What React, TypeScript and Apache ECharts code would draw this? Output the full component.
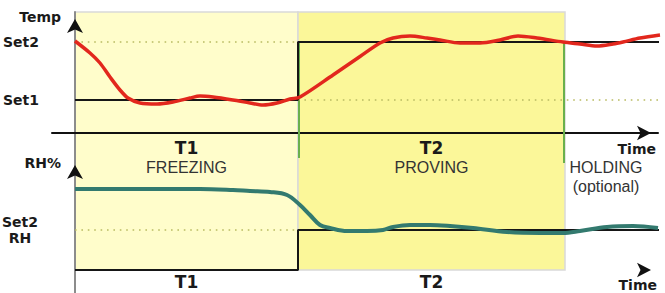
import { useEffect, useRef } from "react";
import * as echarts from "echarts";

// ---- time axis (arbitrary time units) ----
const TIME_MIN = -23;
const TIME_MAX = 583;
const TIME_END = 585;
const PHASE_EDGES = [0, 223, 490]; // start of T1, T1 -> T2, T2 -> holding
const PHASE_NAMES = ["T1", "T2", ""];
const PHASE_TITLES = ["FREEZING", "PROVING", "HOLDING"];
const PHASE_NOTES = ["", "", "(optional)"];
const PHASE_LABEL_POS = [111.5, 356.5, 531];

// ---- temperature panel ----
const TEMP_MAX = 121;
const TEMP_SETPOINTS = [33, 91];
const TEMP_SET_LABELS = ["Set1", "Set2"];
const TEMP_TIME = [0, 15, 25, 35, 45, 53, 65, 82, 98, 115, 125, 138, 158, 175, 188, 202, 215, 225, 258, 285, 305, 318, 335, 352, 365, 385, 405, 425, 443, 462, 488, 505, 522, 538, 548, 565, 585];
const TEMP_VALUES = [92, 80, 70, 56, 43, 35, 30, 29, 31, 35, 37, 36, 33, 30, 28, 30, 34, 36, 58, 76.5, 90, 95, 97, 95, 93, 90, 90, 93, 97, 95, 91, 89, 87, 89, 91, 95, 98];

// ---- humidity panel ----
const RH_MAX = 112;
const RH_SETPOINT = 40;
const RH_SET_LABEL = "Set2\nRH";
const RH_TIME = [0, 75, 125, 158, 175, 195, 212, 225, 235, 245, 255, 272, 292, 308, 318, 335, 355, 375, 398, 432, 465, 488, 505, 532, 558, 583];
const RH_VALUES = [81, 81, 81, 80, 79, 78, 75, 65, 55, 45, 42, 39, 39, 40, 43, 45, 45, 44, 42, 38, 37, 37, 39, 43, 44, 42];

// ---- background (phase shading) ----
const BG_MAX = 281;
const SHADE_RANGE = [23, 281];
const PHASE_COLORS = ["#FFFDCB", "#FBF799"];
const MARKER_RANGE = [[251, 135], [251, 130]];

const BOLD = "DejaVu Sans";
const REG = "Liberation Sans";

export default function App() {
  const ref = useRef<HTMLDivElement>(null);
  useEffect(() => {
    if (!ref.current) return;
    const chart = echarts.init(ref.current, null, { renderer: "svg" });

    const zip = (xs: number[], ys: number[]) => xs.map((x, i) => [x, ys[i]]);
    const [t0, t1, t2] = PHASE_EDGES;
    const [set1, set2] = TEMP_SETPOINTS;

    const tempStep = [[t0, set1], [t1, set1], [t1, set2], [TIME_END, set2]];
    const rhStep = [[t0, 0], [t1, 0], [t1, RH_SETPOINT], [TIME_END, RH_SETPOINT]];

    const dotted = { color: "#b9bb63", width: 1.6, type: [1.6, 4.8] as any };

    const baseX = {
      type: "value" as const,
      min: TIME_MIN,
      max: TIME_MAX,
      splitLine: { show: false },
      axisTick: { show: false },
    };

    const option: any = {
      animation: false,
      backgroundColor: "#ffffff",
      grid: [
        { left: 52, right: 7, top: 12, bottom: 0, outerBoundsMode: "none" },
        { left: 52, right: 7, top: 12, bottom: 160, outerBoundsMode: "none" },
        { left: 52, right: 7, top: 158, bottom: 23, outerBoundsMode: "none" },
      ],
      xAxis: [
        { ...baseX, gridIndex: 0, show: false },
        {
          ...baseX,
          gridIndex: 1,
          z: 3,
          axisLine: {
            show: true,
            onZero: true,
            symbol: ["none", "arrow"],
            symbolSize: [11, 14],
            symbolOffset: [0, -7],
            lineStyle: { color: "#111111", width: 2 },
          },
          axisLabel: {
            customValues: PHASE_LABEL_POS,
            margin: 5,
            formatter: (v: number) => {
              const i = PHASE_LABEL_POS.indexOf(v);
              const lines = [`{b|${PHASE_NAMES[i] || " "}}`, `{r|${PHASE_TITLES[i]}}`];
              if (PHASE_NOTES[i]) lines.push(`{r|${PHASE_NOTES[i]}}`);
              return lines.join("\n");
            },
            rich: {
              b: { fontFamily: BOLD, fontWeight: "bold", fontSize: 17, lineHeight: 20, color: "#1a1a1a" },
              r: { fontFamily: REG, fontSize: 16, lineHeight: 19, color: "#333333" },
            },
          },
          name: "Time",
          nameLocation: "end",
          nameGap: -2,
          nameMoveOverlap: false,
          nameTextStyle: {
            fontFamily: BOLD,
            fontWeight: "bold",
            fontSize: 14,
            color: "#1a1a1a",
            align: "right",
            verticalAlign: "top",
            padding: [9, 0, 0, 0],
          },
        },
        {
          ...baseX,
          gridIndex: 2,
          z: 3,
          axisLine: {
            show: true,
            onZero: true,
            symbol: ["none", "arrow"],
            symbolSize: [11, 14],
            symbolOffset: [0, -7],
            lineStyle: { color: "#111111", width: 0 },
          },
          axisLabel: {
            customValues: PHASE_LABEL_POS.slice(0, 2),
            margin: 2,
            formatter: (v: number) => PHASE_NAMES[PHASE_LABEL_POS.indexOf(v)],
            fontFamily: BOLD,
            fontWeight: "bold",
            fontSize: 17,
            lineHeight: 20,
            color: "#1a1a1a",
          },
          name: "Time",
          nameLocation: "end",
          nameGap: -1,
          nameMoveOverlap: false,
          nameTextStyle: {
            fontFamily: BOLD,
            fontWeight: "bold",
            fontSize: 14,
            color: "#1a1a1a",
            align: "right",
            verticalAlign: "top",
            padding: [8, 0, 0, 0],
          },
        },
      ],
      yAxis: [
        {
          type: "value",
          gridIndex: 0,
          min: 0,
          max: BG_MAX,
          z: 3,
          axisLine: { show: true, onZero: true, lineStyle: { color: "#8c8c8c", width: 2 } },
          axisTick: { show: false },
          axisLabel: { show: false },
          splitLine: { show: false },
        },
        {
          type: "value",
          gridIndex: 1,
          min: 0,
          max: TEMP_MAX,
          z: 3,
          axisLine: {
            show: true,
            onZero: true,
            symbol: ["none", "arrow"],
            symbolSize: [12, 14],
            symbolOffset: [0, -7],
            lineStyle: { color: "#111111", width: 0 },
          },
          axisTick: { show: false },
          splitLine: { show: false },
          axisLabel: {
            customValues: TEMP_SETPOINTS,
            formatter: (v: number) => TEMP_SET_LABELS[TEMP_SETPOINTS.indexOf(v)],
            margin: 13,
            fontFamily: BOLD,
            fontWeight: "bold",
            fontSize: 14,
            color: "#1a1a1a",
          },
          name: "Temp",
          nameLocation: "end",
          nameGap: -4.5,
          nameTextStyle: {
            fontFamily: BOLD,
            fontWeight: "bold",
            fontSize: 14,
            color: "#1a1a1a",
            align: "right",
            verticalAlign: "middle",
            padding: [0, 14, 0, 0],
          },
        },
        {
          type: "value",
          gridIndex: 2,
          min: 0,
          max: RH_MAX,
          z: 3,
          axisLine: {
            show: true,
            onZero: true,
            symbol: ["none", "arrow"],
            symbolSize: [12, 14],
            symbolOffset: [0, -7],
            lineStyle: { color: "#111111", width: 0 },
          },
          axisTick: { show: false },
          splitLine: { show: false },
          axisLabel: {
            customValues: [RH_SETPOINT],
            formatter: () => RH_SET_LABEL,
            margin: 32,
            align: "center",
            lineHeight: 16,
            padding: [0, 0, 4, 0],
            fontFamily: BOLD,
            fontWeight: "bold",
            fontSize: 14,
            color: "#1a1a1a",
          },
          name: "RH%",
          nameLocation: "end",
          nameGap: -4.5,
          nameTextStyle: {
            fontFamily: BOLD,
            fontWeight: "bold",
            fontSize: 14,
            color: "#1a1a1a",
            align: "right",
            verticalAlign: "middle",
            padding: [0, 14, 0, 0],
          },
        },
      ],
      series: [
        {
          type: "line",
          xAxisIndex: 0,
          yAxisIndex: 0,
          data: [[t1 + 1, MARKER_RANGE[0][0]], [t1 + 1, MARKER_RANGE[0][1]]],
          symbol: "none",
          lineStyle: { color: "#6ab04c", width: 2 },
          clip: false,
          markArea: {
            silent: true,
            itemStyle: { borderColor: "#d9d9d9", borderWidth: 1.5 },
            data: [
              [
                { xAxis: t0, yAxis: SHADE_RANGE[0], itemStyle: { color: PHASE_COLORS[0] } },
                { xAxis: t1, yAxis: SHADE_RANGE[1] },
              ],
              [
                { xAxis: t1, yAxis: SHADE_RANGE[0], itemStyle: { color: PHASE_COLORS[1] } },
                { xAxis: t2, yAxis: SHADE_RANGE[1] },
              ],
            ],
          },
        },
        {
          type: "line",
          xAxisIndex: 0,
          yAxisIndex: 0,
          data: [[t2 - 1, MARKER_RANGE[1][0]], [t2 - 1, MARKER_RANGE[1][1]]],
          symbol: "none",
          lineStyle: { color: "#6ab04c", width: 2 },
          clip: false,
        },
        // temperature panel
        {
          type: "line", xAxisIndex: 1, yAxisIndex: 1, symbol: "none", clip: false,
          data: [[t0, set2], [t1, set2]], lineStyle: dotted,
        },
        {
          type: "line", xAxisIndex: 1, yAxisIndex: 1, symbol: "none", clip: false,
          data: [[t1, set1], [TIME_END, set1]], lineStyle: dotted,
        },
        {
          type: "line", xAxisIndex: 1, yAxisIndex: 1, symbol: "none", clip: false,
          data: tempStep, lineStyle: { color: "#161616", width: 2 },
        },
        {
          type: "line", xAxisIndex: 1, yAxisIndex: 1, symbol: "none", clip: false,
          smooth: 0.3,
          data: zip(TEMP_TIME, TEMP_VALUES),
          lineStyle: { color: "#e2271d", width: 3.5 },
        },
        // humidity panel
        {
          type: "line", xAxisIndex: 2, yAxisIndex: 2, symbol: "none", clip: false,
          data: [[t0, RH_SETPOINT], [t1, RH_SETPOINT]], lineStyle: dotted,
        },
        {
          type: "line", xAxisIndex: 2, yAxisIndex: 2, symbol: "none", clip: false,
          data: rhStep, lineStyle: { color: "#161616", width: 2 },
        },
        {
          type: "line", xAxisIndex: 2, yAxisIndex: 2, symbol: "none", clip: false,
          smooth: 0.35,
          data: zip(RH_TIME, RH_VALUES),
          lineStyle: { color: "#337a6f", width: 4 },
        },
      ],
    };

    chart.setOption(option);
    return () => chart.dispose();
  }, []);

  return (
    <div
      ref={ref}
      style={{ position: "fixed", left: 0, top: 0, width: 665, height: 293, background: "#fff" }}
    />
  );
}
